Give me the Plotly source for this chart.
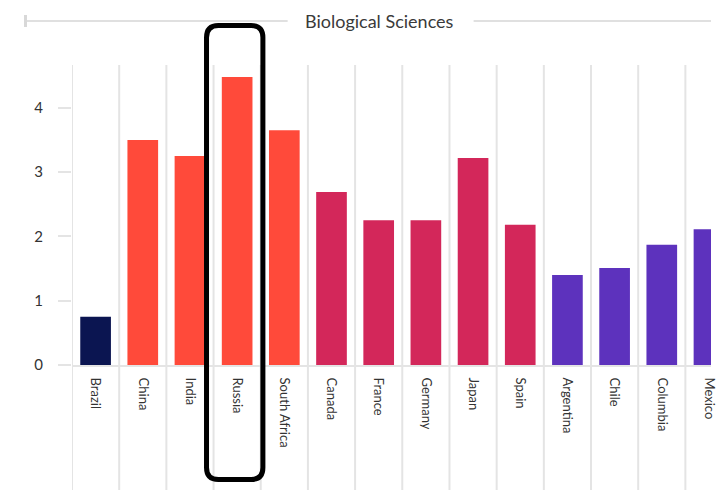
import plotly.graph_objects as go

# Country categories and their Biological Sciences scores
countries = ["Brazil", "China", "India", "Russia", "South Africa",
             "Canada", "France", "Germany", "Japan", "Spain",
             "Argentina", "Chile", "Columbia", "Mexico"]
values = [0.75, 3.5, 3.25, 4.48, 3.65,
          2.69, 2.25, 2.25, 3.22, 2.18,
          1.40, 1.51, 1.87, 2.11]
groups = ["BR", "BRICS", "BRICS", "BRICS", "BRICS",
          "DEV", "DEV", "DEV", "DEV", "DEV",
          "LATAM", "LATAM", "LATAM", "LATAM"]
group_colors = {"BR": "#0b1551", "BRICS": "#ff4a3a", "DEV": "#d3275a", "LATAM": "#5d32bd"}
y_ticks = [0, 1, 2, 3, 4]
title_text = "Biological Sciences"
highlight = "Russia"

W, H = 718, 502
L, R, T, B = 72, 0, 65, 137
pw, ph = W - L - R, H - T - B
grid = "#e4e4e4"

def px_x(px):
    return (px - L) / pw

def px_y(py):
    return (H - B - py) / ph

fig = go.Figure(go.Bar(
    x=countries, y=values,
    marker=dict(color=[group_colors[g] for g in groups], line_width=0),
    width=0.65,
))

shapes = []
# category boundary lines that run down through the label area
for k in range(len(countries) + 1):
    shapes.append(dict(type="line", xref="x", yref="paper",
                       x0=k - 0.5, x1=k - 0.5, y0=px_y(490), y1=1,
                       line=dict(color=grid, width=2), layer="below"))

# title rule on both sides of the heading
shapes.append(dict(type="line", xref="paper", yref="paper",
                   x0=px_x(25), x1=px_x(290), y0=px_y(21), y1=px_y(21),
                   line=dict(color="#e0e0e0", width=2)))
shapes.append(dict(type="line", xref="paper", yref="paper",
                   x0=px_x(478), x1=px_x(718), y0=px_y(21), y1=px_y(21),
                   line=dict(color="#e0e0e0", width=2)))
shapes.append(dict(type="line", xref="paper", yref="paper",
                   x0=px_x(25), x1=px_x(25), y0=px_y(15), y1=px_y(27),
                   line=dict(color="#d8d8d8", width=3)))

# rounded highlight frame around the selected country
i = countries.index(highlight)
cx = L + (i + 0.5) * (pw / 13.54)
x0p, x1p = cx - 31, cx + 26
y0p, y1p = 25.5, 479.5
r = 12
def P(x, y):
    return f"{px_x(x):.5f},{px_y(y):.5f}"
path = (f"M {P(x0p + r, y0p)} L {P(x1p - r, y0p)} Q {P(x1p, y0p)} {P(x1p, y0p + r)} "
        f"L {P(x1p, y1p - r)} Q {P(x1p, y1p)} {P(x1p - r, y1p)} "
        f"L {P(x0p + r, y1p)} Q {P(x0p, y1p)} {P(x0p, y1p - r)} "
        f"L {P(x0p, y0p + r)} Q {P(x0p, y0p)} {P(x0p + r, y0p)} Z")
shapes.append(dict(type="path", xref="paper", yref="paper", path=path,
                   line=dict(color="#000000", width=5)))

fig.update_layout(
    width=W, height=H,
    margin=dict(l=L, r=R, t=T, b=B, pad=0),
    paper_bgcolor="white", plot_bgcolor="white",
    showlegend=False,
    font=dict(family="Lato, Open Sans, sans-serif", color="#333333"),
    shapes=shapes,
    annotations=[dict(text=title_text, xref="paper", yref="paper",
                      x=px_x(383), y=px_y(21), showarrow=False,
                      font=dict(size=18, color="#3a3a3a"),
                      xanchor="center", yanchor="middle")],
    bargap=0.35,
)
fig.update_xaxes(
    range=[-0.5, -0.5 + pw / 47.7],
    tickangle=90, showgrid=False, showline=True,
    linecolor=grid, linewidth=2, ticks="",
    tickfont=dict(size=13, color="#333333"),
    ticklabelstandoff=8,
)
fig.update_yaxes(
    range=[0, ph / 64.3], tickvals=y_ticks,
    showgrid=False, zeroline=False, showline=False,
    ticks="outside", ticklen=13, tickcolor=grid, tickwidth=2,
    tickfont=dict(size=15, color="#333333"),
    ticklabelstandoff=12,
)

fig.write_html("out.html")
